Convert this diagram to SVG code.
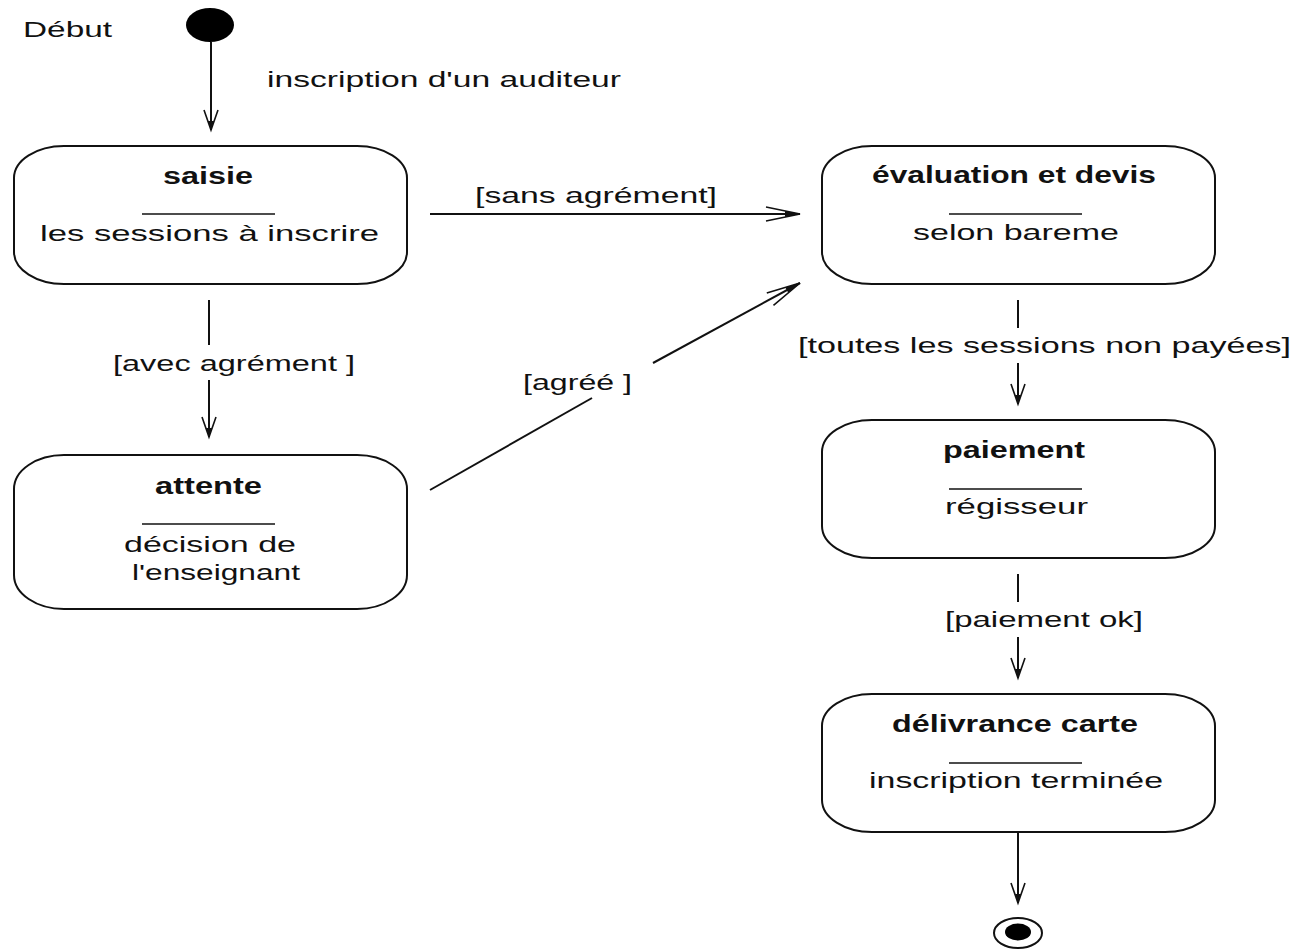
<svg xmlns="http://www.w3.org/2000/svg" width="1299" height="949" viewBox="0 0 1299 949">
<style>
  text { font-family: "Liberation Sans", Arial, sans-serif; font-size: 22px; fill: #111; }
  .title { font-weight: bold; font-size: 23px; }
  .state { fill: #fff; stroke: #111; stroke-width: 2; }
  .sep { stroke: #111; stroke-width: 1.6; }
  .conn { fill: none; stroke: #111; stroke-width: 2; }
</style>
<defs>
  <marker id="arrV" markerUnits="userSpaceOnUse" viewBox="-24 -10 26 20" refX="0" refY="0" markerWidth="26" markerHeight="20" orient="auto" overflow="visible">
    <path d="M-20,-7 L0,0 L-20,7" fill="none" stroke="#111" stroke-width="1.6"/>
    <path d="M-9,-3 L0,0 L-9,3 Z" fill="#111"/>
  </marker>
  <marker id="arrH" markerUnits="userSpaceOnUse" viewBox="-40 -10 42 20" refX="0" refY="0" markerWidth="42" markerHeight="20" orient="auto" overflow="visible">
    <path d="M-34,-7 L0,0 L-34,7" fill="none" stroke="#111" stroke-width="1.6"/>
    <path d="M-15,-3 L0,0 L-15,3 Z" fill="#111"/>
  </marker>
</defs>
<rect width="1299" height="949" fill="#fff"/>

<g id="start">
  <ellipse cx="210" cy="25" rx="24" ry="17" fill="#000"/>
  <text x="23" y="37" textLength="89" lengthAdjust="spacingAndGlyphs">Début</text>
</g>

<g id="saisie">
  <rect class="state" x="14" y="146" width="393" height="138" rx="50" ry="32"/>
  <text class="title" x="163" y="184" textLength="90" lengthAdjust="spacingAndGlyphs">saisie</text>
  <line class="sep" x1="142" y1="214" x2="275" y2="214"/>
  <text x="40" y="241" textLength="339" lengthAdjust="spacingAndGlyphs">les sessions à inscrire</text>
</g>

<g id="attente">
  <rect class="state" x="14" y="455" width="393" height="154" rx="50" ry="34"/>
  <text class="title" x="155" y="494" textLength="107" lengthAdjust="spacingAndGlyphs">attente</text>
  <line class="sep" x1="142" y1="524" x2="275" y2="524"/>
  <text x="124" y="552" textLength="172" lengthAdjust="spacingAndGlyphs">décision de</text>
  <text x="132" y="580" textLength="168" lengthAdjust="spacingAndGlyphs">l'enseignant</text>
</g>

<g id="evaluation">
  <rect class="state" x="822" y="146" width="393" height="138" rx="50" ry="32"/>
  <text class="title" x="872" y="183" textLength="284" lengthAdjust="spacingAndGlyphs">évaluation et devis</text>
  <line class="sep" x1="949" y1="214" x2="1082" y2="214"/>
  <text x="913" y="240" textLength="206" lengthAdjust="spacingAndGlyphs">selon bareme</text>
</g>

<g id="paiement">
  <rect class="state" x="822" y="420" width="393" height="138" rx="50" ry="32"/>
  <text class="title" x="943" y="458" textLength="142" lengthAdjust="spacingAndGlyphs">paiement</text>
  <line class="sep" x1="949" y1="489" x2="1082" y2="489"/>
  <text x="945" y="514" textLength="143" lengthAdjust="spacingAndGlyphs">régisseur</text>
</g>

<g id="delivrance">
  <rect class="state" x="822" y="694" width="393" height="138" rx="50" ry="32"/>
  <text class="title" x="892" y="732" textLength="246" lengthAdjust="spacingAndGlyphs">délivrance carte</text>
  <line class="sep" x1="949" y1="763" x2="1082" y2="763"/>
  <text x="869" y="788" textLength="294" lengthAdjust="spacingAndGlyphs">inscription terminée</text>
</g>

<g id="end">
  <ellipse cx="1018" cy="933" rx="24" ry="15" fill="#fff" stroke="#111" stroke-width="2"/>
  <ellipse cx="1018" cy="932" rx="13" ry="8.5" fill="#000"/>
</g>

<g id="connectors">
  <line class="conn" x1="211" y1="42" x2="211" y2="130" marker-end="url(#arrV)"/>
  <text x="267" y="87" textLength="354" lengthAdjust="spacingAndGlyphs">inscription d'un auditeur</text>

  <line class="conn" x1="209" y1="300" x2="209" y2="345"/>
  <line class="conn" x1="209" y1="380" x2="209" y2="437" marker-end="url(#arrV)"/>
  <text x="113" y="371" textLength="242" lengthAdjust="spacingAndGlyphs">[avec agrément ]</text>

  <line class="conn" x1="430" y1="214" x2="800" y2="214" marker-end="url(#arrH)"/>
  <text x="475" y="203" textLength="242" lengthAdjust="spacingAndGlyphs">[sans agrément]</text>

  <line class="conn" x1="430" y1="490" x2="592" y2="398"/>
  <line class="conn" x1="653" y1="363" x2="800" y2="283" marker-end="url(#arrH)"/>
  <text x="523" y="390" textLength="109" lengthAdjust="spacingAndGlyphs">[agréé ]</text>

  <line class="conn" x1="1018" y1="300" x2="1018" y2="328"/>
  <line class="conn" x1="1018" y1="363" x2="1018" y2="404" marker-end="url(#arrV)"/>
  <text x="798" y="353" textLength="493" lengthAdjust="spacingAndGlyphs">[toutes les sessions non payées]</text>

  <line class="conn" x1="1018" y1="574" x2="1018" y2="602"/>
  <line class="conn" x1="1018" y1="637" x2="1018" y2="678" marker-end="url(#arrV)"/>
  <text x="945" y="627" textLength="198" lengthAdjust="spacingAndGlyphs">[paiement ok]</text>

  <line class="conn" x1="1018" y1="832" x2="1018" y2="903" marker-end="url(#arrV)"/>
</g>
</svg>
